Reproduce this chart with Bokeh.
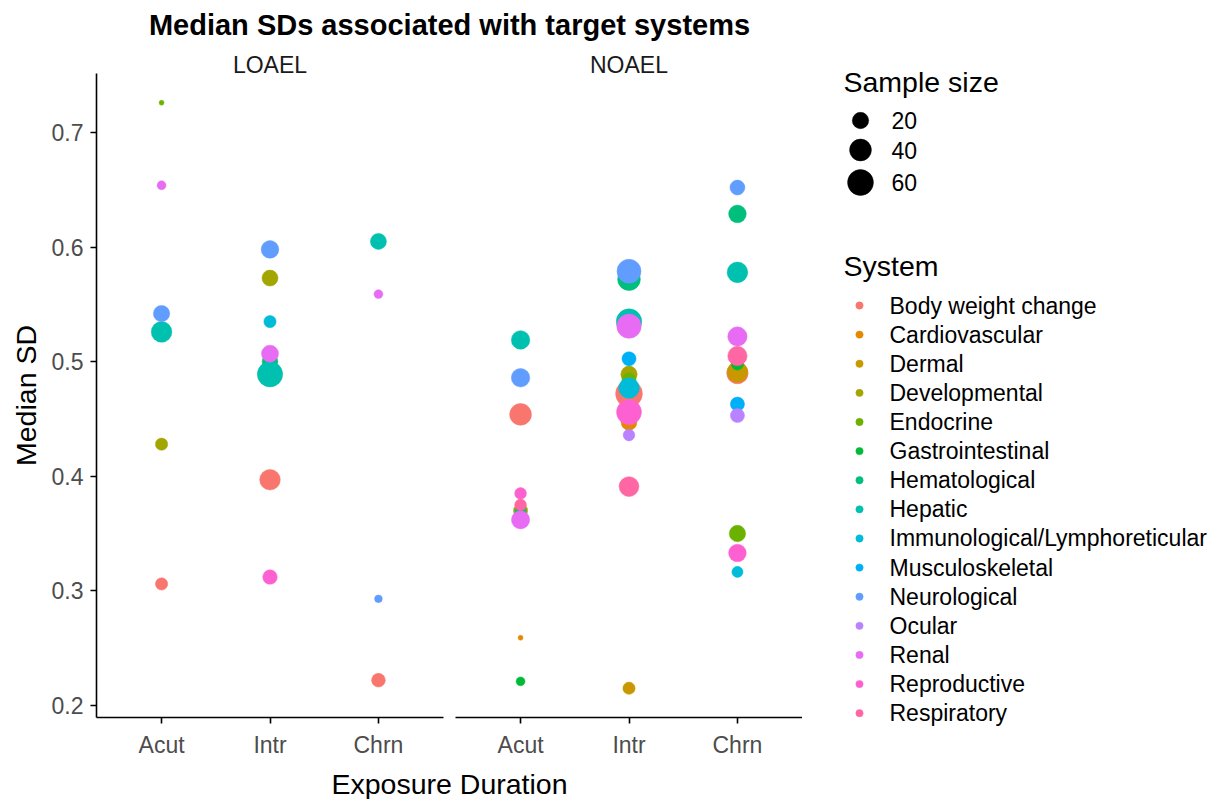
import math
from bokeh.plotting import figure
from bokeh.models import FactorRange, Range1d, FixedTicker, ColumnDataSource, Title, Spacer
from bokeh.layouts import row, column
from bokeh.embed import file_html
from bokeh.resources import INLINE
from bokeh.core.properties import value

# ---------------- data ----------------
SYSTEMS = ["Body weight change", "Cardiovascular", "Dermal", "Developmental", "Endocrine",
           "Gastrointestinal", "Hematological", "Hepatic", "Immunological/Lymphoreticular",
           "Musculoskeletal", "Neurological", "Ocular", "Renal", "Reproductive", "Respiratory"]
SYSTEM_COLORS = ["#F8766D", "#E58700", "#C99800", "#A3A500", "#6BB100", "#00BA38", "#00BF7D",
                 "#00C0AF", "#00BCD8", "#00B0F6", "#619CFF", "#B983FF", "#E76BF3", "#FD61D1", "#FF67A4"]
DURATIONS = ["Acut", "Intr", "Chrn"]
Y_TICKS = [0.2, 0.3, 0.4, 0.5, 0.6, 0.7]
SIZE_BREAKS = [20, 40, 60]

loael_duration = ["Acut", "Acut", "Acut", "Acut", "Acut", "Acut",
                  "Intr", "Intr", "Intr", "Intr", "Intr", "Intr", "Intr", "Intr",
                  "Chrn", "Chrn", "Chrn", "Chrn"]
loael_system = ["Endocrine", "Renal", "Neurological", "Hepatic", "Developmental", "Body weight change",
                "Neurological", "Developmental", "Immunological/Lymphoreticular", "Hematological",
                "Renal", "Hepatic", "Body weight change", "Reproductive",
                "Hepatic", "Renal", "Neurological", "Body weight change"]
loael_sd = [0.726, 0.654, 0.542, 0.526, 0.428, 0.306,
            0.598, 0.573, 0.535, 0.500, 0.507, 0.489, 0.397, 0.312,
            0.605, 0.559, 0.293, 0.222]
loael_n = [3, 5, 20, 35, 10, 10,
           24, 19, 10, 18, 22, 57, 35, 15,
           19, 5, 4, 13]

noael_duration = ["Acut"] * 10 + ["Intr"] * 14 + ["Chrn"] * 13
noael_system = ["Hepatic", "Neurological", "Body weight change", "Reproductive", "Respiratory",
                "Developmental", "Hematological", "Renal", "Cardiovascular", "Gastrointestinal",
                "Neurological", "Hematological", "Hepatic", "Renal", "Musculoskeletal", "Developmental",
                "Endocrine", "Immunological/Lymphoreticular", "Body weight change", "Reproductive",
                "Cardiovascular", "Ocular", "Respiratory", "Dermal",
                "Neurological", "Hematological", "Hepatic", "Renal", "Respiratory", "Body weight change",
                "Dermal", "Musculoskeletal", "Ocular", "Endocrine", "Reproductive",
                "Immunological/Lymphoreticular", "Gastrointestinal"]
noael_sd = [0.519, 0.486, 0.454, 0.385, 0.375, 0.370, 0.369, 0.362, 0.259, 0.221,
            0.579, 0.572, 0.535, 0.531, 0.5025, 0.489, 0.484, 0.477, 0.472, 0.456, 0.447, 0.436, 0.391, 0.215,
            0.652, 0.629, 0.578, 0.522, 0.505, 0.490, 0.491, 0.463, 0.453, 0.350, 0.333, 0.3165, 0.498]
noael_n = [27, 27, 40, 9, 9, 14, 8, 26, 3, 5,
           50, 44, 58, 52, 14, 20, 14, 35, 65, 55, 18, 9, 32, 10,
           16, 24, 35, 30, 30, 38, 35, 14, 14, 20, 24, 8, 10]

# ---------------- scales ----------------
ALL_N = loael_n + noael_n
NMIN, NMAX = min(ALL_N), max(ALL_N)


def diameter(n):
    t = max(n - NMIN, 0) / (NMAX - NMIN)
    return 4.36 * (1 + 5 * math.sqrt(t)) + 0.6


ALL_SD = loael_sd + noael_sd
lo, hi = min(ALL_SD), max(ALL_SD)
pad = 0.05 * (hi - lo)
y_range = Range1d(lo - pad, hi + pad)

FONT = "Liberation Sans"
color_of = dict(zip(SYSTEMS, SYSTEM_COLORS))

# ---------------- layout constants ----------------
TOP_SPACE = 6
TITLE_H = 42
PANEL_H = 712
BORDER_TOP = 25
BORDER_BOTTOM = 42
XLAB_H = 799 - TOP_SPACE - TITLE_H - PANEL_H
FRAME_W = 347
LEFT_W = 96
GAP = 6
MAIN_W = LEFT_W + FRAME_W + GAP + GAP + FRAME_W
LEG_W = 1214 - MAIN_W
FIG_H = 799


def style_axis(ax):
    ax.axis_line_color = "black"
    ax.axis_line_width = 1.6
    ax.major_tick_line_color = "black"
    ax.major_tick_line_width = 1.6
    ax.major_tick_out = 6
    ax.major_tick_in = 0
    ax.minor_tick_line_color = None
    ax.major_label_text_font = FONT
    ax.major_label_text_font_size = "23px"
    ax.major_label_text_color = "#4D4D4D"
    ax.major_label_standoff = 7


def make_panel(name, dur, sysn, sd, n, first):
    order = sorted(range(len(sysn)), key=lambda i: SYSTEMS.index(sysn[i]))
    src = ColumnDataSource(dict(
        x=[dur[i] for i in order],
        y=[sd[i] for i in order],
        size=[diameter(n[i]) for i in order],
        color=[color_of[sysn[i]] for i in order],
    ))
    p = figure(width=(LEFT_W + FRAME_W + GAP) if first else (GAP + FRAME_W), height=PANEL_H,
               x_range=FactorRange(factors=DURATIONS, range_padding=0.1, range_padding_units="absolute"),
               y_range=y_range, toolbar_location=None, output_backend="svg",
               y_axis_location="left" if first else None,
               min_border_left=LEFT_W if first else GAP, min_border_right=GAP if first else 0,
               min_border_top=BORDER_TOP, min_border_bottom=BORDER_BOTTOM)
    p.outline_line_color = None
    p.xgrid.visible = False
    p.ygrid.visible = False
    p.title.text = name
    p.title.align = "center"
    p.title.vertical_align = "middle"
    p.title.text_font = FONT
    p.title.text_font_size = "23px"
    p.title.text_font_style = "normal"
    p.title.text_color = "#1A1A1A"
    p.title.standoff = -10
    style_axis(p.xaxis[0])
    p.xaxis.major_label_standoff = 8
    if first:
        ya = p.yaxis[0]
        style_axis(ya)
        ya.ticker = FixedTicker(ticks=Y_TICKS)
        ya.axis_label = "Median SD"
        ya.axis_label_text_font = FONT
        ya.axis_label_text_font_size = "28.5px"
        ya.axis_label_text_font_style = "normal"
        ya.axis_label_text_color = "black"
        ya.axis_label_standoff = 7
    p.scatter(x="x", y="y", size="size", fill_color="color", line_color="color",
              line_width=0.5, source=src)
    return p


p_lo = make_panel("LOAEL", loael_duration, loael_system, loael_sd, loael_n, True)
p_no = make_panel("NOAEL", noael_duration, noael_system, noael_sd, noael_n, False)

# ---------------- legend figure (coordinates: pixels from its own top-left) ----------------
leg = figure(width=LEG_W, height=FIG_H, x_range=Range1d(0, LEG_W), y_range=Range1d(FIG_H, 0),
             x_axis_type=None, y_axis_type=None, toolbar_location=None, output_backend="svg",
             min_border_left=0, min_border_right=0, min_border_top=0, min_border_bottom=0)
leg.outline_line_color = None

KEY_X = 58
LABEL_X = 87
HEAD_X = 41
SIZE_ROWS_Y = [120, 149.5, 182]
SYS_Y0, SYS_STEP = 305, 29.12
sys_y = [SYS_Y0 + i * SYS_STEP for i in range(len(SYSTEMS))]

leg.text(x=[HEAD_X, HEAD_X], y=[81.7, 265], text=["Sample size", "System"],
         text_font=value(FONT), text_font_size=value("28.5px"), text_baseline="middle",
         text_align="left", text_color="black")
leg.scatter(x=[KEY_X] * len(SIZE_BREAKS), y=SIZE_ROWS_Y, size=[diameter(v) for v in SIZE_BREAKS],
            fill_color="black", line_color="black", line_width=0.5)
leg.text(x=[LABEL_X + 2] * len(SIZE_BREAKS), y=SIZE_ROWS_Y, text=[str(v) for v in SIZE_BREAKS],
         text_font=value(FONT), text_font_size=value("23px"), text_baseline="middle",
         text_align="left", text_color="black")
leg.scatter(x=[KEY_X - 1] * len(SYSTEMS), y=sys_y, size=diameter(NMIN) + 2.4,
            fill_color=SYSTEM_COLORS, line_color=SYSTEM_COLORS, line_width=0.5)
leg.text(x=[LABEL_X] * len(SYSTEMS), y=sys_y, text=SYSTEMS,
         text_font=value(FONT), text_font_size=value("23px"), text_baseline="middle",
         text_align="left", text_color="black")

# ---------------- title and x label ----------------
title_fig = figure(width=MAIN_W, height=TITLE_H, x_axis_type=None, y_axis_type=None,
                   toolbar_location=None, output_backend="svg",
                   min_border_left=LEFT_W, min_border_right=0, min_border_top=0, min_border_bottom=0)
title_fig.outline_line_color = None
title_fig.title.text = "Median SDs associated with target systems"
title_fig.title.align = "center"
title_fig.title.text_font = FONT
title_fig.title.text_font_size = "29px"
title_fig.title.text_font_style = "bold"
title_fig.title.text_color = "black"
title_fig.title.standoff = 0

xlab_fig = figure(width=MAIN_W, height=XLAB_H, x_axis_type=None, y_axis_type=None,
                  toolbar_location=None, output_backend="svg", title=None,
                  min_border_left=LEFT_W, min_border_right=0, min_border_top=0, min_border_bottom=0)
xlab_fig.outline_line_color = None
xlab_fig.add_layout(Title(text="Exposure Duration", align="center", text_font=FONT,
                          text_font_size="28.5px", text_font_style="normal", text_color="black",
                          standoff=0), "below")

main = column(Spacer(width=MAIN_W, height=TOP_SPACE), title_fig, row(p_lo, p_no), xlab_fig)
layout = row(main, leg)

open("out.html", "w").write(file_html(layout, INLINE))
